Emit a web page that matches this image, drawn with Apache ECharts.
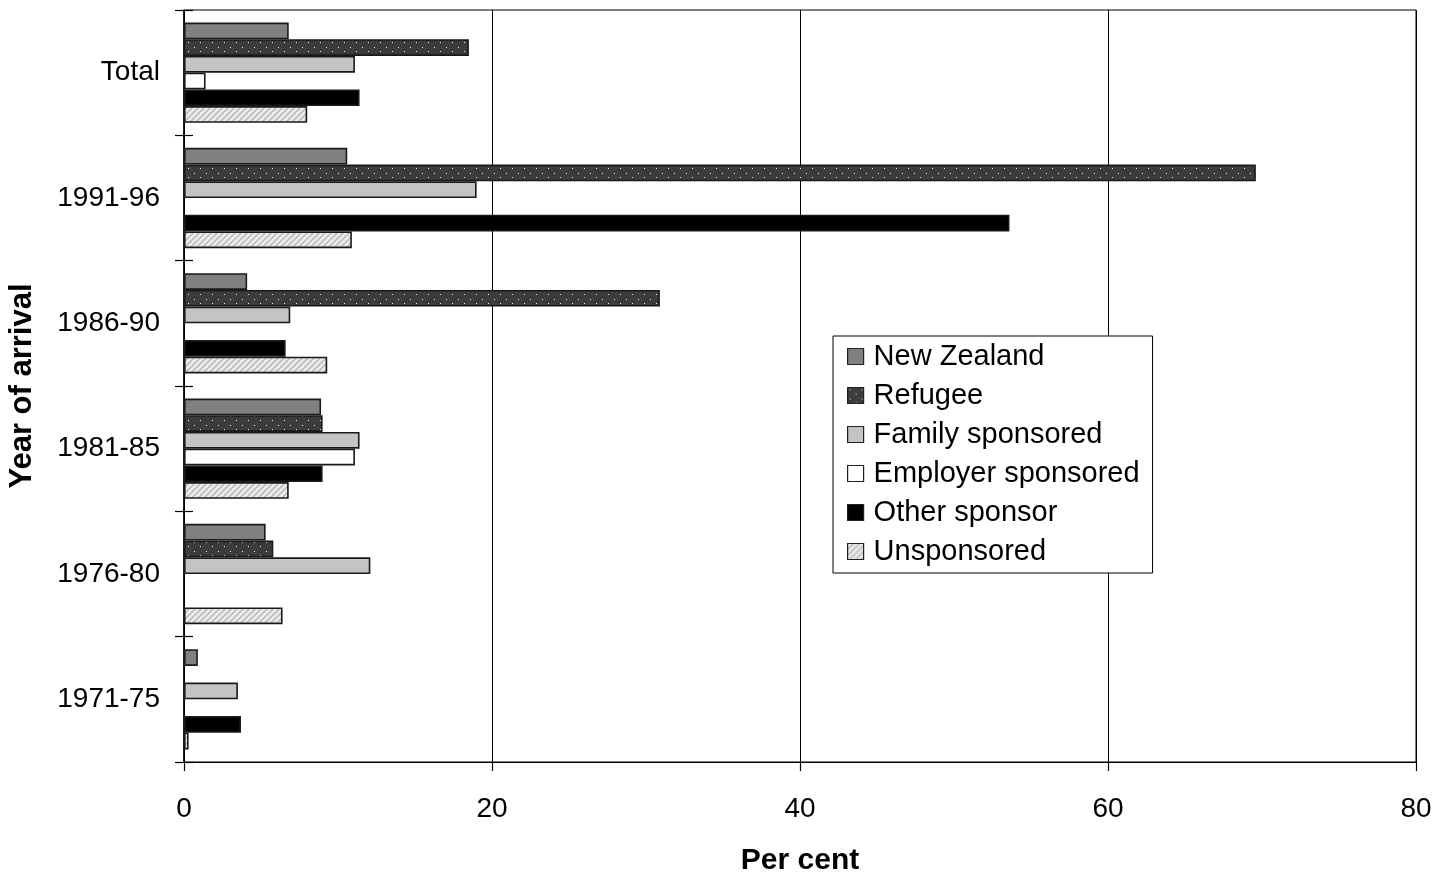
<!DOCTYPE html>
<html>
<head>
<meta charset="utf-8">
<script src="https://cdn.jsdelivr.net/npm/echarts@6/dist/echarts.min.js"></script>
<style>html,body{margin:0;padding:0;background:#fff;}#c{width:1447px;height:877px;}</style>
</head>
<body>
<div id="c"></div>
<script>
const categories = ['Total', '1991-96', '1986-90', '1981-85', '1976-80', '1971-75'];
const newZealand = [6.8, 10.6, 4.1, 8.9, 5.3, 0.9];
const refugee = [18.5, 69.6, 30.9, 9.0, 5.8, 0];
const familySponsored = [11.1, 19.0, 6.9, 11.4, 12.1, 3.5];
const employerSponsored = [1.4, 0, 0, 11.1, 0, 0];
const otherSponsor = [11.4, 53.6, 6.6, 9.0, 0, 3.7];
const unsponsored = [8.0, 10.9, 9.3, 6.8, 6.4, 0.3];
const xTicks = [0, 20, 40, 60, 80];

function dotPattern() {
  const c = document.createElement('canvas');
  c.width = 12; c.height = 9;
  const g = c.getContext('2d');
  g.fillStyle = '#3c3c3c'; g.fillRect(0, 0, 12, 9);
  g.fillStyle = '#f0f0f0';
  g.fillRect(2, 2, 1, 1);
  g.fillRect(8, 6, 1, 1);
  return c;
}
function hatchPattern() {
  const c = document.createElement('canvas');
  c.width = 6; c.height = 6;
  const g = c.getContext('2d');
  g.fillStyle = '#ebebeb'; g.fillRect(0, 0, 6, 6);
  g.strokeStyle = '#b4b4b4'; g.lineWidth = 1.3;
  g.beginPath();
  g.moveTo(-1, 7); g.lineTo(7, -1);
  g.moveTo(-4, 4); g.lineTo(4, -4);
  g.moveTo(2, 10); g.lineTo(10, 2);
  g.stroke();
  return c;
}

const seriesDefs = [
  ['New Zealand', newZealand, '#808080'],
  ['Refugee', refugee, {image: dotPattern(), repeat: 'repeat'}],
  ['Family sponsored', familySponsored, '#c4c4c4'],
  ['Employer sponsored', employerSponsored, '#ffffff'],
  ['Other sponsor', otherSponsor, '#000000'],
  ['Unsponsored', unsponsored, {image: hatchPattern(), repeat: 'repeat'}]
];

const font = 'Liberation Sans, Arial, sans-serif';
const chart = echarts.init(document.getElementById('c'), null, {renderer: 'canvas'});
chart.setOption({
  animation: false,
  backgroundColor: '#fff',
  textStyle: {fontFamily: font, color: '#000'},
  grid: {left: 184, right: 31, top: 10, bottom: 115, containLabel: false, outerBoundsMode: 'none',
    show: true, borderColor: '#000', borderWidth: 1, backgroundColor: 'transparent'},
  legend: {
    orient: 'vertical', left: 833, top: 336,
    backgroundColor: '#fff', borderColor: '#000', borderWidth: 1,
    padding: [6, 13, 7, 14],
    itemWidth: 16, itemHeight: 16, itemGap: 10,
    icon: 'rect',
    textStyle: {fontFamily: font, fontSize: 29, color: '#000', lineHeight: 29, padding: [0, 0, 0, 5]},
    itemStyle: {borderColor: '#222', borderWidth: 1.2},
    data: seriesDefs.map(d => d[0])
  },
  xAxis: {
    type: 'value', min: 0, max: 80, interval: 20,
    name: 'Per cent', nameLocation: 'middle', nameGap: 84,
    nameTextStyle: {fontFamily: font, fontSize: 30, fontWeight: 'bold', color: '#000'},
    axisLine: {show: true, lineStyle: {color: '#000', width: 1.2}},
    axisTick: {show: true, length: 9, lineStyle: {color: '#000', width: 1.2}},
    axisLabel: {fontFamily: font, fontSize: 28, color: '#000', margin: 33,
      formatter: v => xTicks.includes(v) ? String(v) : ''},
    splitLine: {show: true, lineStyle: {color: '#000', width: 1}}
  },
  yAxis: [{
    type: 'category', data: categories, inverse: true,
    name: 'Year of arrival', nameLocation: 'middle', nameGap: 146, nameRotate: 90,
    nameTextStyle: {fontFamily: font, fontSize: 31, fontWeight: 'bold', color: '#000'},
    axisLine: {show: true, lineStyle: {color: '#000', width: 1.5}},
    axisTick: {show: true, length: 9, lineStyle: {color: '#000', width: 1.2}},
    axisLabel: {fontFamily: font, fontSize: 28, color: '#000', margin: 24, padding: [4, 0, 0, 0]},
    splitLine: {show: false}
  }, {
    type: 'category', data: categories, inverse: true, position: 'left',
    axisLine: {show: false},
    axisTick: {show: true, inside: true, length: 9, lineStyle: {color: '#000', width: 1.2}},
    axisLabel: {show: false},
    splitLine: {show: false}
  }],
  series: seriesDefs.map(([name, vals, color]) => ({
    name: name, type: 'bar', yAxisIndex: 0,
    data: vals.map(v => v === 0 ? '-' : v),
    barGap: '0%', barCategoryGap: '20%',
    itemStyle: {color: color, borderColor: '#1a1a1a', borderWidth: 1.6}
  }))
});
</script>
</body>
</html>
